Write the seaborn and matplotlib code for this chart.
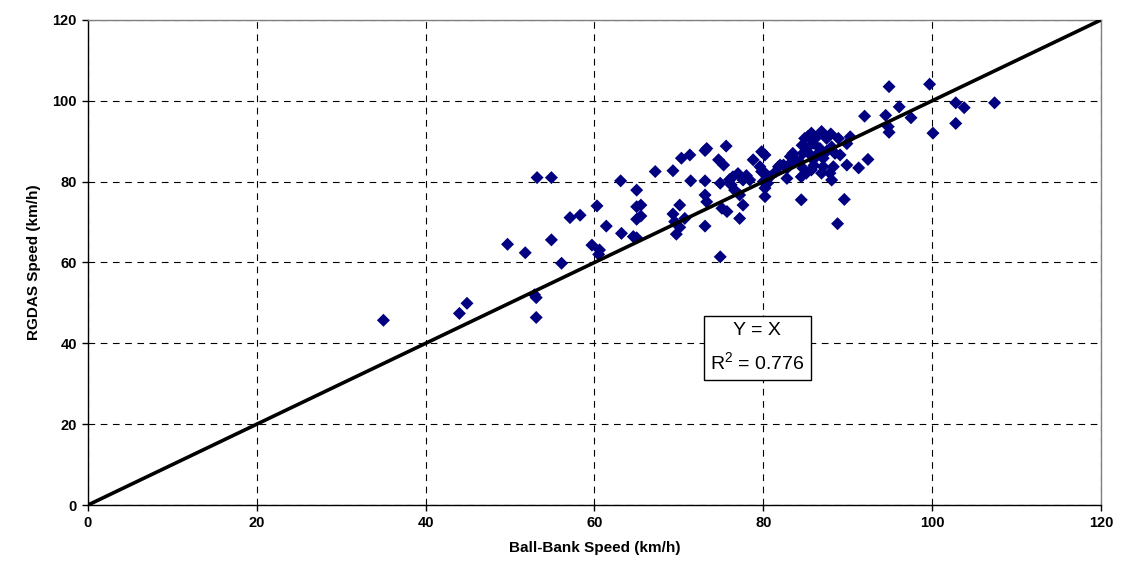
import matplotlib
matplotlib.use("Agg")
import matplotlib.pyplot as plt
import seaborn as sns
import pandas as pd

# Ball-bank speed vs. RGDAS speed (km/h)
ball_bank = [
    35.0, 44.0, 44.9, 49.7, 51.8, 52.9, 53.1, 53.1, 53.2, 54.9, 54.9, 56.1,
    57.1, 58.3, 59.7, 60.3, 60.5, 60.6, 61.4, 63.1, 63.2, 64.6, 65.0, 65.0,
    65.0, 65.5, 65.0, 65.5, 67.2, 69.3, 69.3, 69.5, 69.7, 70.1, 70.1, 70.3,
    70.7, 71.3, 71.4, 73.1, 73.3, 73.1, 73.1, 73.3, 73.1, 74.9, 74.7, 75.3,
    75.6, 74.9, 75.1, 75.7, 77.2, 77.6, 76.4, 77.0, 76.2, 76.6, 77.2, 77.6,
    78.4, 78.8, 79.8, 80.2, 79.6, 79.8, 80.2, 80.0, 80.5, 80.2, 80.2, 80.8,
    81.8, 82.4, 83.2, 82.0, 82.8, 82.8, 83.2, 83.5, 84.3, 84.5, 84.5, 84.7,
    84.7, 84.9, 85.1, 85.1, 85.7, 85.7, 85.9, 85.9, 86.3, 86.7, 86.9, 86.9,
    87.1, 87.1, 87.5, 87.9, 88.1, 88.1, 88.3, 88.5, 88.9, 88.8, 89.1, 89.6,
    89.9, 89.9, 90.3, 91.3, 92.0, 92.4, 94.5, 94.8, 94.9, 94.9, 96.1, 97.5,
    99.7, 100.1, 102.8, 102.8, 103.8, 107.4,
    85.3, 86.2, 84.6, 86.0, 87.5, 83.8, 81.5, 78.0, 76.0, 85.5, 88.0,
]
rgdas = [
    45.7, 47.4, 49.9, 64.5, 62.4, 52.0, 51.3, 46.4, 81.0, 81.0, 65.6, 59.8,
    71.1, 71.7, 64.3, 74.0, 62.0, 63.1, 69.0, 80.2, 67.2, 66.4, 66.1, 77.9,
    73.8, 74.2, 70.7, 71.5, 82.5, 82.7, 72.0, 70.1, 67.0, 68.7, 74.2, 85.8,
    70.9, 86.6, 80.2, 87.7, 88.2, 80.2, 76.7, 75.0, 69.0, 61.4, 85.4, 84.1,
    88.8, 79.6, 73.4, 72.6, 70.9, 74.2, 81.2, 82.0, 79.2, 77.9, 76.7, 80.4,
    80.4, 85.4, 87.4, 86.6, 83.7, 82.5, 82.1, 80.0, 79.6, 78.4, 76.3, 81.2,
    83.7, 84.1, 86.2, 84.1, 83.3, 80.8, 84.5, 87.0, 84.9, 81.2, 75.5, 87.0,
    83.3, 90.7, 88.2, 82.1, 92.0, 82.9, 89.5, 85.4, 86.6, 88.2, 92.4, 82.1,
    85.8, 83.7, 90.7, 82.1, 88.6, 80.4, 83.7, 87.0, 90.7, 69.6, 86.6, 75.6,
    89.4, 84.1, 91.1, 83.4, 96.2, 85.5, 96.4, 93.6, 92.2, 103.5, 98.5, 95.8,
    104.1, 92.0, 99.5, 94.4, 98.3, 99.5,
    91.2, 90.8, 89.0, 84.0, 87.5, 85.6, 82.5, 81.5, 80.5, 86.8, 91.8,
]

axis_ticks = [0, 20, 40, 60, 80, 100, 120]
equality_line = [0, 120]
annotation = "Y = X\nR$^2$ = 0.776"

df = pd.DataFrame({"Ball-Bank Speed (km/h)": ball_bank, "RGDAS Speed (km/h)": rgdas})

sns.set_style("white")
plt.rcParams["font.family"] = ["Liberation Sans", "DejaVu Sans"]
plt.rcParams["text.color"] = "black"
plt.rcParams["axes.labelcolor"] = "black"
plt.rcParams["xtick.color"] = "black"
plt.rcParams["ytick.color"] = "black"
plt.rcParams["mathtext.fontset"] = "custom"
plt.rcParams["mathtext.rm"] = "Liberation Sans"

fig = plt.figure(figsize=(11.21, 5.82), dpi=100)
ax = fig.add_axes([0.0785, 0.1323, 0.9036, 0.8334])

sns.scatterplot(data=df, x="Ball-Bank Speed (km/h)", y="RGDAS Speed (km/h)",
                marker="D", s=44, color="#000080", edgecolor="none", ax=ax,
                zorder=3, clip_on=False)
sns.lineplot(x=equality_line, y=equality_line, color="black", linewidth=2.6,
             ax=ax, zorder=4)

ax.set_xlim(axis_ticks[0], axis_ticks[-1])
ax.set_ylim(axis_ticks[0], axis_ticks[-1])
ax.set_xticks(axis_ticks)
ax.set_yticks(axis_ticks)
ax.grid(True, color="black", linestyle=(0, (6, 5)), linewidth=0.8)
ax.set_axisbelow(True)

for side in ("left", "bottom"):
    ax.spines[side].set_color("black")
    ax.spines[side].set_linewidth(1.0)
for side in ("top", "right"):
    ax.spines[side].set_color("#808080")
    ax.spines[side].set_linewidth(1.0)

ax.tick_params(axis="both", which="major", direction="out", length=4,
               width=1, color="black", labelsize=10.5, pad=4,
               bottom=True, left=True)
for lab in ax.get_xticklabels() + ax.get_yticklabels():
    lab.set_fontweight("bold")

ax.set_xlabel("Ball-Bank Speed (km/h)", fontsize=11, fontweight="bold", labelpad=8)
ax.set_ylabel("RGDAS Speed (km/h)", fontsize=11, fontweight="bold", labelpad=8)

ax.text(79.3, 38.8, annotation, ha="center", va="center", fontsize=14,
        linespacing=1.65, zorder=5,
        bbox=dict(boxstyle="square,pad=0.3", facecolor="white",
                  edgecolor="black", linewidth=1.0))

fig.savefig("out.png", dpi=100)
